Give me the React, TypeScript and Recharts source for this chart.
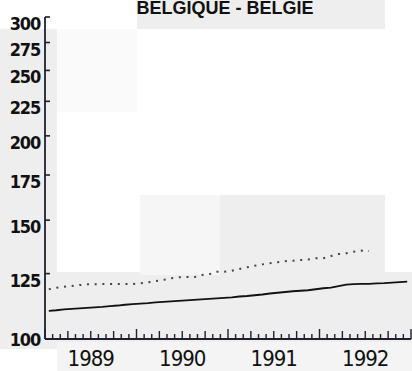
import { LineChart, Line, XAxis, YAxis } from "recharts";

// monthly index values, Jan 1989 - Dec 1992
const years = ["1989", "1990", "1991", "1992"];

const solidSeries = [
  110.1, 110.3, 110.6, 110.8, 111.0, 111.2, 111.4, 111.6, 111.9, 112.1, 112.4, 112.6,
  112.8, 113.0, 113.3, 113.5, 113.7, 113.9, 114.1, 114.3, 114.5, 114.7, 114.9, 115.1,
  115.3, 115.6, 115.8, 116.1, 116.4, 116.8, 117.1, 117.4, 117.7, 117.9, 118.1, 118.5,
  118.9, 119.2, 119.8, 120.4, 120.6, 120.7, 120.7, 120.9, 121.0, 121.2, 121.4, 121.6,
];

const dottedSeries = [
  118.5, 119.1, 119.5, 119.8, 120.2, 120.5, 120.5, 120.6, 120.6, 120.6, 120.6, 120.6,
  120.9, 121.3, 121.9, 122.3, 123.0, 123.4, 123.6, 123.4, 124.4, 124.7, 125.8, 125.8,
  126.2, 127.0, 127.7, 128.4, 129.0, 129.5, 129.9, 130.4, 130.6, 130.9, 131.2, 131.7,
  131.7, 132.7, 133.6, 134.0, 134.7, 135.2, 135.0,
];

const yTicks = [100, 125, 150, 175, 200, 225, 250, 275, 300];
const monthTicks = Array.from({ length: 49 }, (_, i) => i);

const data = solidSeries.map((v, i) => ({
  x: i + 0.5,
  solid: v,
  dotted: i < dottedSeries.length ? dottedSeries[i] : null,
}));

const labelFont = "'Liberation Sans Narrow', 'DejaVu Sans Condensed', sans-serif";
const axisColor = "#202030";

function YTick(props: any) {
  const x = Number(props.x);
  const y = Number(props.y);
  const value = props.payload.value;
  const dy = value === 100 ? 7 : 13;
  return (
    <g>
      <rect x={x + 4} y={y - 0.8} width={5} height={1.6} fill={axisColor} />
      <text
        x={x - 1}
        y={y + dy}
        textAnchor="end"
        fontFamily={labelFont}
        fontWeight="bold"
        fontSize={18}
        letterSpacing={-1.2}
        fill="#111"
      >
        {value}
      </text>
    </g>
  );
}

function XTick(props: any) {
  const x = Number(props.x);
  const y = Number(props.y);
  const m = props.payload.value;
  const h = m % 12 === 0 ? 10 : m % 3 === 0 ? 8 : 5;
  const isLabel = m % 12 === 6;
  return (
    <g>
      <rect x={x - 0.7} y={y - h} width={1.4} height={h} fill={axisColor} />
      {isLabel && (
        <text
          x={x}
          y={y + 27}
          textAnchor="middle"
          fontFamily={labelFont}
          fontSize={22}
          letterSpacing={-1}
          fill="#111"
        >
          {years[(m - 6) / 12]}
        </text>
      )}
    </g>
  );
}

// scan-like light grey blocks, drawn as background layers of the page box
const patches = [
  { left: 0, top: 29, width: 57, height: 320, bg: "#eeeeee" },
  { left: 137, top: 0, width: 248, height: 29, bg: "#eeeeee" },
  { left: 57, top: 29, width: 80, height: 83, bg: "#fafafa" },
  { left: 140, top: 195, width: 80, height: 80, bg: "#f6f6f6" },
  { left: 220, top: 195, width: 165, height: 80, bg: "#eeeeee" },
  { left: 45, top: 272, width: 367, height: 70, bg: "#eeeeee" },
  { left: 57, top: 342, width: 355, height: 29, bg: "#f4f4f4" },
];

const bgStyle = {
  backgroundColor: "#fff",
  backgroundImage: patches.map((p) => `linear-gradient(${p.bg}, ${p.bg})`).join(", "),
  backgroundPosition: patches.map((p) => `${p.left}px ${p.top}px`).join(", "),
  backgroundSize: patches.map((p) => `${p.width}px ${p.height}px`).join(", "),
  backgroundRepeat: "no-repeat",
};

export default function App() {
  return (
    <div style={{ position: "absolute", left: 0, top: 0, width: 412, height: 371, ...bgStyle }}>
      <LineChart width={412} height={371} data={data} margin={{ top: 17, right: 1, bottom: 0, left: 0 }}>
        <XAxis
          dataKey="x"
          type="number"
          domain={[0, 48]}
          ticks={monthTicks}
          interval={0}
          height={32}
          tickSize={0}
          tickMargin={0}
          tickLine={false}
          tick={<XTick />}
          axisLine={{ stroke: axisColor, strokeWidth: 1.8 }}
        />
        <YAxis
          scale="log"
          domain={[100, 300]}
          ticks={yTicks}
          interval={0}
          allowDataOverflow
          width={45}
          tickSize={0}
          tickMargin={4}
          tickLine={false}
          tick={<YTick />}
          axisLine={{ stroke: axisColor, strokeWidth: 1.8 }}
        />
        <Line
          dataKey="dotted"
          stroke="#444"
          strokeWidth={2}
          strokeDasharray="2 5.7"
          dot={false}
          isAnimationActive={false}
        />
        <Line
          dataKey="solid"
          stroke="#111"
          strokeWidth={1.8}
          dot={false}
          isAnimationActive={false}
        />
      </LineChart>
      <div
        style={{
          position: "absolute",
          left: 0,
          width: 450,
          top: -1,
          lineHeight: "18px",
          textAlign: "center",
          fontFamily: "'Liberation Sans', Arial, sans-serif",
          fontWeight: "bold",
          fontSize: 18,
          color: "#111",
        }}
      >
        BELGIQUE - BELGIE
      </div>
    </div>
  );
}
